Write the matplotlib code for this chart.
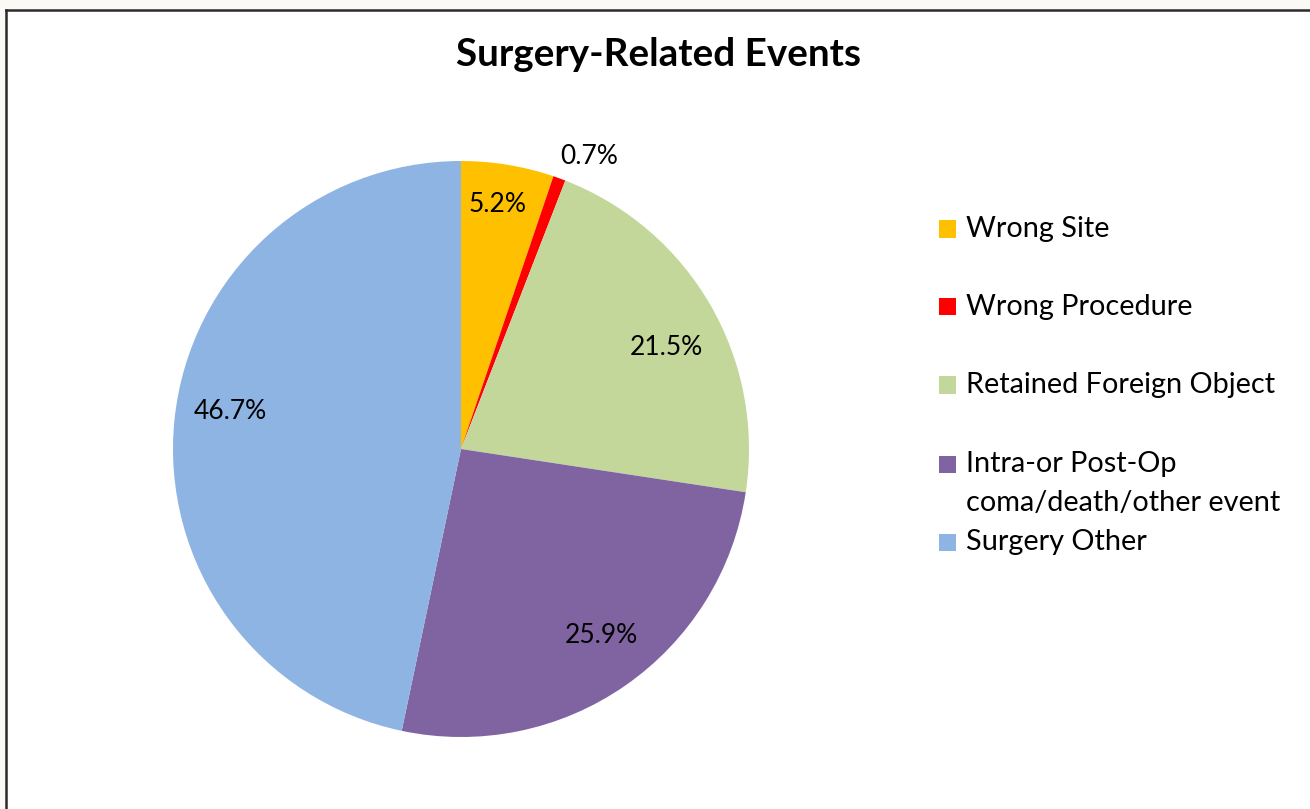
import matplotlib
matplotlib.use("Agg")
import matplotlib.pyplot as plt
from matplotlib.patches import Rectangle
from matplotlib.lines import Line2D
import numpy as np

categories = ["Wrong Site", "Wrong Procedure", "Retained Foreign Object",
              "Intra-or Post-Op\ncoma/death/other event", "Surgery Other"]
values = [5.2, 0.7, 21.5, 25.9, 46.7]
labels = ["5.2%", "0.7%", "21.5%", "25.9%", "46.7%"]
colors = ["#FFC000", "#FF0000", "#C4D79B", "#8064A2", "#8EB4E3"]
label_dist = [0.86, 1.11, 0.795, 0.81, 0.81]
label_ang_off = [0.8, -3.7, -3.7, 2.3, -3.2]

W, H = 1310, 809
fig = plt.figure(figsize=(W / 100, H / 100), dpi=100)
fig.patch.set_facecolor("#FBF9F6")
FONT = "Lato"

def fx(px):
    return px / W

def fy(py):
    return 1 - py / H

# chart area (white) with dark border on top and left
fig.patches.append(Rectangle((fx(6), 0), 1 - fx(6), fy(9), transform=fig.transFigure,
                             facecolor="white", edgecolor="none", zorder=-5))
fig.lines.append(Line2D([fx(6), 1], [fy(9.5), fy(9.5)], transform=fig.transFigure,
                        color="#2B2B2B", lw=1.8, zorder=-4))
fig.lines.append(Line2D([fx(6), fx(6)], [0, fy(9.5)], transform=fig.transFigure,
                        color="#2B2B2B", lw=1.8, zorder=-4))

# pie axes: center (461, 449), radius 288
cx, cy, r = 461, 449, 288
ax = fig.add_axes([fx(cx - r), fy(cy + r), (2 * r) / W, (2 * r) / H])
ax.set_zorder(2)
ax.patch.set_visible(False)
wedges, _ = ax.pie(values, colors=colors, startangle=90, counterclock=False,
                   radius=1.0, wedgeprops=dict(linewidth=0))
ax.set_xlim(-1, 1)
ax.set_ylim(-1, 1)
ax.set_aspect("auto")
ax.axis("off")

for w, lab, d, off in zip(wedges, labels, label_dist, label_ang_off):
    ang = np.deg2rad((w.theta1 + w.theta2) / 2 + off)
    ax.text(d * np.cos(ang), d * np.sin(ang), lab, ha="center", va="center",
            fontsize=19, family=FONT, color="black")

fig.text(fx(659), fy(55), "Surgery-Related Events", ha="center", va="center",
         fontsize=27.8, fontweight="bold", family=FONT, color="black")

# legend
leg_y = [229, 307, 385, 464, 542]
for cat, col, y in zip(categories, colors, leg_y):
    fig.patches.append(Rectangle((fx(939), fy(y + 8.5)), 17 / W, 17 / H,
                                 transform=fig.transFigure, facecolor=col,
                                 edgecolor="none"))
    lines = cat.split("\n")
    for i, ln in enumerate(lines):
        fig.text(fx(966), fy(y + 39 * i), ln, ha="left", va="center",
                 fontsize=20.8, family=FONT, color="black")

fig.savefig("out.png", dpi=100, facecolor=fig.get_facecolor())
